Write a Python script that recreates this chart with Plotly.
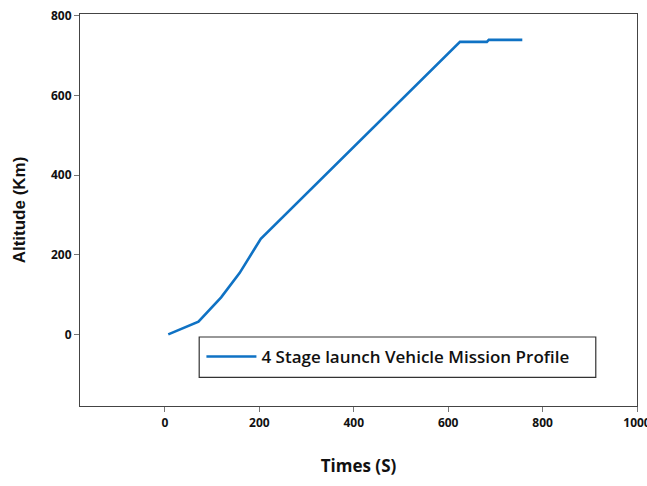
import plotly.graph_objects as go

time_s = [7, 71, 119, 158, 203, 625, 682, 686, 757]
altitude_km = [0, 32, 93, 154, 240, 735, 735, 740, 740]
series_name = "4 Stage launch Vehicle Mission Profile"
x_ticks = [0, 200, 400, 600, 800, 1000]
y_ticks = [0, 200, 400, 600, 800]

fig = go.Figure()
fig.add_trace(go.Scatter(x=time_s, y=altitude_km, mode="lines", name=series_name,
                         line=dict(color="#0f72c4", width=2.6)))

axis_common = dict(showgrid=False, zeroline=False, showline=True, linecolor="#444",
                   linewidth=1.2, mirror=True, ticks="outside", ticklen=5,
                   tickcolor="#777", ticklabeloverflow="allow", automargin=False,
                   tickfont=dict(family="Open Sans", size=12, color="#111", weight="bold"))
fig.update_xaxes(range=[-180, 1000], tickvals=x_ticks, **axis_common,
                 title=dict(text="Times (S)", font=dict(family="Open Sans", size=17, color="#111", weight="bold"),
                            standoff=30))
fig.update_yaxes(range=[-180, 805], tickvals=y_ticks, **axis_common,
                 title=dict(text="Altitude (Km)", font=dict(family="Liberation Sans", size=17, color="#111", weight="bold"),
                            standoff=20))
fig.add_shape(type="rect", xref="paper", yref="paper", x0=0.214, x1=0.926, y0=0.073, y1=0.176,
              line=dict(color="#333", width=1.2))
fig.update_layout(
    width=647, height=486,
    margin=dict(l=80, r=10, t=14, b=80),
    plot_bgcolor="white", paper_bgcolor="white",
    showlegend=True,
    legend=dict(x=0.218, y=0.125, xanchor="left", yanchor="middle",
                bgcolor="rgba(0,0,0,0)", borderwidth=0, itemwidth=50,
                font=dict(family="Open Sans", size=17, color="#111", weight=600)),
)
fig.write_html("out.html")
